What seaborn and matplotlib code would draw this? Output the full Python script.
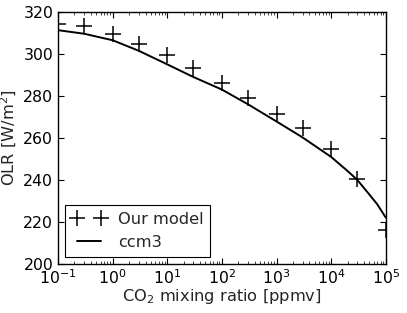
import numpy as np
import matplotlib
matplotlib.use("Agg")
import matplotlib.pyplot as plt
import seaborn as sns

# CO2 mixing ratios [ppmv] for our model runs
co2 = [0.1, 0.3, 1, 3, 10, 30, 100, 300, 1000, 3000, 1e4, 3e4, 1e5]
# OLR from our model (crosses)
olr_model = [314.3, 313.2, 309.5, 304.8, 299.3, 293.1, 286.3, 279.0, 271.4, 264.8, 254.7, 240.4, 216.2]
co2_ccm3 = [0.1, 0.3, 1, 3, 10, 30, 100, 300, 1000, 3000, 1e4, 2e4, 3e4, 5e4, 7e4, 1e5]
olr_ccm3 = [311.3, 309.6, 306.5, 301.5, 295.0, 289.0, 283.0, 276.0, 267.8, 260.2, 250.9,
            244.2, 240.0, 233.0, 228.3, 222.0]

sns.set_style("ticks")
plt.rcParams["font.family"] = ["DejaVu Sans"]

fig = plt.figure(figsize=(4.07, 3.13), dpi=100)
ax = fig.add_axes([0.1425, 0.157, 0.8055, 0.805])

sns.lineplot(x=co2, y=olr_model, ax=ax, marker="+", linestyle="", color="black",
             markersize=11.5, markeredgewidth=1.1, markeredgecolor="black",
             label="Our model", zorder=3)
sns.lineplot(x=co2_ccm3, y=olr_ccm3, ax=ax, color="black", linewidth=1.4, label="ccm3")

ax.set_xscale("log")
ax.set_xlim(0.1, 1e5)
ax.set_ylim(200, 320)
ax.set_yticks(np.arange(200, 321, 20))
ax.minorticks_on()
ax.yaxis.set_minor_locator(plt.NullLocator())
ax.tick_params(axis="both", which="major", labelsize=11.3, length=4, width=0.8, colors="black",
               top=True, right=True, direction="in")
ax.tick_params(axis="x", which="minor", length=2, width=0.6, top=True, bottom=True, direction="in")
for s in ax.spines.values():
    s.set_color("black")
    s.set_linewidth(1.0)

ax.set_xlabel("CO$_2$ mixing ratio [ppmv]", fontsize=11.7, labelpad=0)
ax.set_ylabel("OLR [W/m$^2$]", fontsize=11.7, labelpad=3)

leg = ax.legend(loc="lower left", numpoints=2, fontsize=11.7, frameon=True, fancybox=False,
                edgecolor="black", framealpha=1, borderaxespad=0.45, handlelength=2.1,
                handletextpad=0.75)
leg.get_frame().set_linewidth(0.8)

fig.savefig("out.png", dpi=100)
